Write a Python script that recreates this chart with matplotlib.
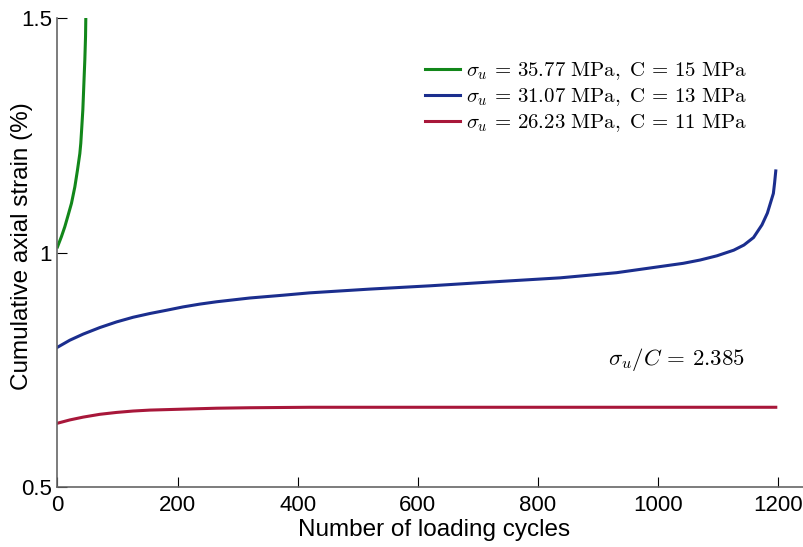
import matplotlib

matplotlib.use("Agg")
import matplotlib.pyplot as plt

plt.rcParams.update({"mathtext.fontset": "cm", "font.family": "Liberation Sans"})

# cumulative axial strain (%) vs number of loading cycles
cyc_green = [0, 6.6, 12.2, 17.8, 23.3, 28.9, 33.3, 37.2, 38.8, 40.5, 42.2, 43.3,
             44.4, 45.5, 46.7, 47.2, 47.6]
eps_green = [1.012, 1.034, 1.055, 1.080, 1.105, 1.140, 1.176, 1.211, 1.233, 1.268,
             1.304, 1.339, 1.375, 1.410, 1.460, 1.503, 1.52]

cyc_blue = [0, 20.5, 42.7, 70.5, 98.3, 126, 154, 182, 209, 237, 265, 320, 376, 420,
            520, 620, 720, 837, 931, 1042, 1070, 1098, 1126, 1143, 1159, 1173, 1182,
            1187, 1192, 1194, 1196]
eps_blue = [0.798, 0.813, 0.826, 0.840, 0.852, 0.862, 0.870, 0.877, 0.884, 0.890,
            0.895, 0.903, 0.909, 0.914, 0.922, 0.929, 0.937, 0.946, 0.957, 0.977,
            0.984, 0.993, 1.005, 1.016, 1.032, 1.059, 1.084, 1.105, 1.126, 1.148,
            1.174]

cyc_red = [0, 20.5, 42.7, 70.5, 98.3, 126, 154, 209, 265, 320, 420, 800, 1196]
eps_red = [0.636, 0.643, 0.649, 0.655, 0.659, 0.662, 0.664, 0.666, 0.668, 0.669,
           0.670, 0.670, 0.670]

labels = [r"$\sigma_u\,=\,35.77\ \mathrm{MPa,\ C}\,=\,15\ \mathrm{MPa}$",
          r"$\sigma_u\,=\,31.07\ \mathrm{MPa,\ C}\,=\,13\ \mathrm{MPa}$",
          r"$\sigma_u\,=\,26.23\ \mathrm{MPa,\ C}\,=\,11\ \mathrm{MPa}$"]
ratio_text = r"$\sigma_u/C\,=\,2.385$"

C_GREEN, C_BLUE, C_RED = "#12871a", "#1b2e8e", "#a8173a"

fig = plt.figure(figsize=(8.04, 5.47), dpi=100)
ax = fig.add_axes([0.0715, 0.1097, 0.9285, 0.8573])

ax.plot(cyc_green, eps_green, color=C_GREEN, lw=2.2, label=labels[0])
ax.plot(cyc_blue, eps_blue, color=C_BLUE, lw=2.2, label=labels[1])
ax.plot(cyc_red, eps_red, color=C_RED, lw=2.2, label=labels[2])

ax.set_xlim(0, 1243)
ax.set_ylim(0.5, 1.5)
ax.set_xticks([0, 200, 400, 600, 800, 1000, 1200])
ax.set_yticks([0.5, 1, 1.5])
ax.set_yticklabels(["0.5", "1", "1.5"])
ax.tick_params(direction="in", length=7, width=0.8, labelsize=16, pad=4)
ax.tick_params(axis="x", pad=6)

for s in ("top", "right"):
    ax.spines[s].set_visible(False)
for s in ("left", "bottom"):
    ax.spines[s].set_color("#666666")
    ax.spines[s].set_linewidth(1.2)

# axis titles placed in figure coordinates
fig.text(434 / 804, 1 - 530 / 547, "Number of loading cycles", fontsize=17.5,
         ha="center", va="center")
fig.text(22.5 / 804, 1 - 246 / 547, "Cumulative axial strain (%)", fontsize=17.5,
         ha="center", va="center", rotation=90)

ax.legend(loc="upper left", bbox_to_anchor=(425 / 804, 1 - 60 / 547),
          bbox_transform=fig.transFigure, frameon=False, fontsize=15,
          handlelength=1.7, handletextpad=0.25, labelspacing=0.2,
          borderpad=0, borderaxespad=0)
ax.text(917, 0.771, ratio_text, fontsize=16.5, ha="left", va="center")

fig.savefig("out.png", dpi=100)
